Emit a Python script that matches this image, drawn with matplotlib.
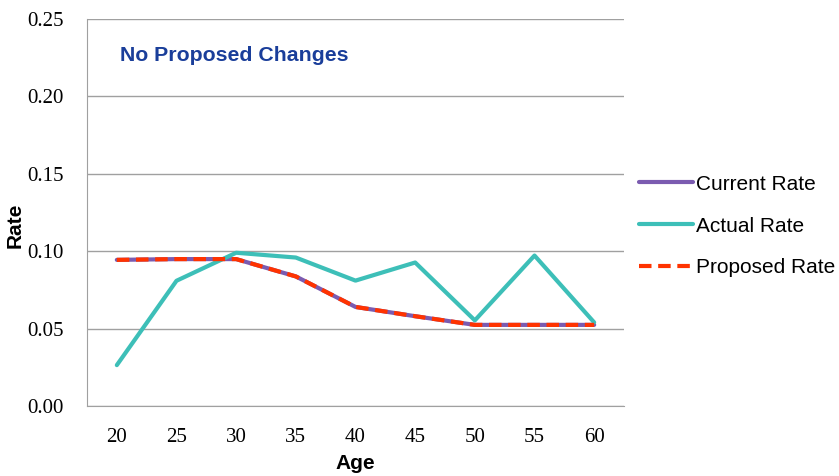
import matplotlib.pyplot as plt

ages = [20, 25, 30, 35, 40, 45, 50, 55, 60]
current_rate = [0.0944, 0.0949, 0.0949, 0.0837, 0.064, 0.058, 0.0524, 0.0524, 0.0524]
actual_rate = [0.0264, 0.0809, 0.099, 0.0959, 0.081, 0.0927, 0.0553, 0.0972, 0.054]
proposed_rate = [0.0944, 0.0949, 0.0949, 0.0837, 0.064, 0.058, 0.0524, 0.0524, 0.0524]
yticks = [0.00, 0.05, 0.10, 0.15, 0.20, 0.25]

fig = plt.figure(figsize=(8.39, 4.76), dpi=100)
ax = fig.add_axes([87 / 839, 1 - 406 / 476, (624 - 87) / 839, (406 - 19) / 476])

xs = range(len(ages))
ax.plot(xs, current_rate, color='#7B5BB0', lw=3, label='Current Rate', solid_capstyle='round')
ax.plot(xs, actual_rate, color='#3DBFB8', lw=3, label='Actual Rate', solid_capstyle='round')
ax.plot(xs, proposed_rate, color='#FF3300', lw=3, ls=(0, (3, 1.6)), label='Proposed Rate')

ax.set_xlim(-0.5, len(ages) - 0.5)
ax.set_ylim(0, 0.25)
ax.set_xticks(list(xs))
ax.set_xticklabels([str(a) for a in ages], fontfamily='Liberation Serif', fontsize=15)
ax.set_yticks(yticks)
ax.set_yticklabels(['%.2f' % t for t in yticks], fontfamily='Liberation Serif', fontsize=15)
ax.tick_params(axis='x', length=0, pad=16)
ax.tick_params(axis='y', length=0, pad=17)
ax.grid(axis='y', color='#A0A0A0', lw=1)
ax.set_axisbelow(True)
for s in ['top', 'right']:
    ax.spines[s].set_visible(False)
for s in ['left', 'bottom']:
    ax.spines[s].set_color('#A0A0A0')

ax.set_xlabel('Age', fontfamily='Liberation Sans', fontweight='bold', fontsize=15, labelpad=5)
fig.text(15 / 839, 1 - 225 / 476, 'Rate', rotation=90, fontfamily='Liberation Sans',
         fontweight='bold', fontsize=15, ha='center', va='center')

ax.text(0.062, 0.905, 'No Proposed Changes', transform=ax.transAxes, color='#1A3E9A',
        fontfamily='Liberation Sans', fontweight='bold', fontsize=15.3, va='center')

fig.legend(loc='center left', bbox_to_anchor=(639 / 839, 1 - 226 / 476), frameon=False,
           prop={'family': 'Liberation Sans', 'size': 15}, handlelength=2.6,
           handletextpad=0.15, labelspacing=1.1, borderaxespad=0, borderpad=0)

fig.savefig('out.png', dpi=100)
